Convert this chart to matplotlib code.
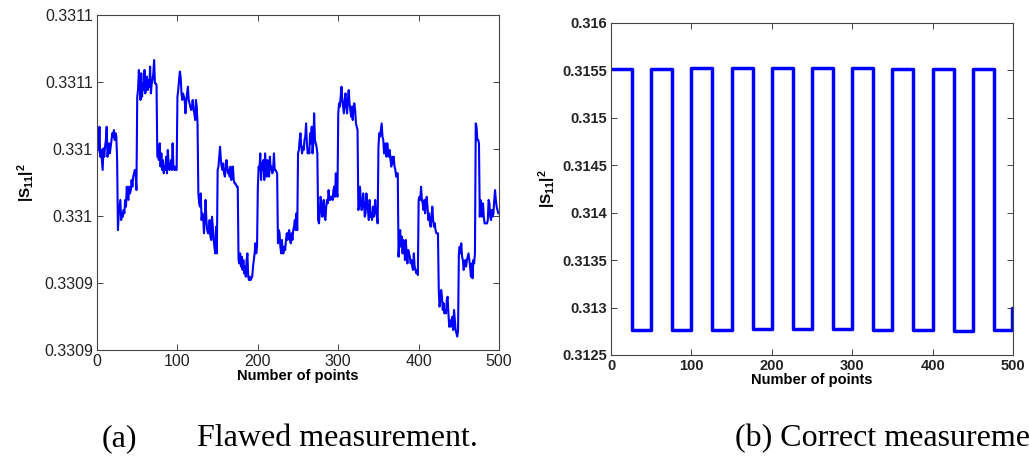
import numpy as np
import matplotlib
matplotlib.use("Agg")
import matplotlib.pyplot as plt

plt.rcParams['font.family'] = ['Liberation Sans', 'DejaVu Sans']
plt.rcParams['mathtext.fontset'] = 'custom'
plt.rcParams['mathtext.rm'] = 'Liberation Sans'
plt.rcParams['mathtext.bf'] = 'Liberation Sans:bold'

flawed_e7 = [
    1174, 1194, 1214, 1333, 1154, 1194, 1134, 1075, 1204, 1154, 1214, 1254, 1333,
    1154, 1194, 1234, 1174, 1214, 1254, 1294, 1274, 1313, 1254, 1294, 1274, 1134,
    716, 816, 856, 896, 776, 816, 796, 836, 816, 896, 856, 975, 915, 896, 975, 935,
    955, 1015, 975, 1035, 1055, 1075, 1055, 955,
    1512, 1552, 1672, 1612, 1493, 1652, 1512, 1592, 1552, 1672, 1532, 1572, 1632,
    1552, 1612, 1572, 1692, 1532, 1592, 1612, 1652, 1731, 1592, 1592, 1582,
    1154, 1154, 1134, 1234, 1095, 1174, 1075, 1134, 1055, 1095, 1075, 1154, 1055,
    1194, 1114, 1075, 1095, 1134, 1075, 1234, 1095, 1075, 1095, 1075, 1075,
    1512, 1552, 1612, 1662, 1632, 1532, 1493, 1532, 1512, 1493, 1413, 1493, 1532,
    1572, 1493, 1473, 1453, 1433, 1453, 1493, 1433, 1413, 1373, 1493, 1453,
    1353, 935, 876, 856, 935, 776, 816, 796, 697, 776, 896, 776, 716, 697, 697, 776,
    677, 657, 796, 736, 657, 617, 577, 736, 577,
    1075, 1095, 1154, 1214, 1134, 1095, 1075, 1114, 1055, 1035, 1075, 1134, 1095,
    1055, 1075, 1035, 1095, 1015, 1075, 1095, 1015, 995, 995, 985, 975,
    975, 537, 517, 577, 498, 557, 478, 537, 458, 498, 438, 537, 577, 438, 418, 438,
    418, 428, 438, 498, 537, 577, 637, 577, 617,
    975, 1095, 1075, 1174, 1015, 1114, 1075, 1134, 1015, 1174, 1095, 1035, 1134,
    1075, 1035, 1154, 1075, 1095, 1055, 1075, 1174, 1075, 1075, 1065, 1055,
    637, 716, 697, 617, 577, 657, 577, 577, 617, 597, 657, 697, 657, 697, 716, 657,
    637, 697, 657, 716, 736, 776, 716, 816, 716,
    1174, 1194, 1254, 1294, 1214, 1174, 1214, 1194, 1254, 1274, 1353, 1234, 1174,
    1194, 1174, 1294, 1234, 1333, 1174, 1234, 1413, 1254, 1234, 1214, 1174,
    776, 756, 816, 915, 876, 796, 816, 896, 796, 776, 856, 896, 876, 955, 896, 896,
    915, 915, 896, 955, 975, 915, 1055, 955, 915,
    1413, 1473, 1453, 1512, 1572, 1493, 1453, 1413, 1493, 1532, 1453, 1413, 1493,
    1552, 1473, 1433, 1393, 1453, 1373, 1453, 1473, 1433, 1353, 1333, 1313,
    836, 856, 975, 896, 836, 856, 935, 876, 796, 816, 935, 856, 836, 776, 896, 796,
    816, 776, 856, 796, 836, 896, 816, 796, 756,
    1214, 1294, 1274, 1313, 1353, 1274, 1254, 1174, 1214, 1234, 1154, 1234, 1174,
    1154, 1194, 1134, 1095, 1154, 1114, 1154, 1095, 1075, 1035, 1055, 1055,
    557, 657, 716, 617, 677, 577, 657, 617, 537, 657, 577, 517, 597, 577, 557, 517,
    537, 498, 478, 577, 498, 478, 458, 478, 448,
    896, 915, 896, 975, 896, 876, 836, 896, 816, 876, 915, 856, 776, 816, 756, 736,
    796, 856, 776, 736, 756, 716, 697, 697, 697,
    358, 259, 299, 358, 318, 239, 279, 219, 239, 219, 299, 318, 219, 139, 179, 139,
    159, 199, 119, 239, 179, 119, 100, 80, 119,
    577, 617, 577, 637, 557, 537, 478, 517, 537, 498, 537, 557, 577, 537, 498, 438,
    517, 428, 537, 517, 577,
    1353, 1333, 1254, 1254, 1234, 796, 896, 816, 796, 876, 796, 756, 756, 756, 756,
    776, 896, 876, 796, 776, 836, 796, 816, 896, 955, 896, 856, 836, 816, 816,
]
flawed = 0.3309 + np.array(flawed_e7) * 1e-7
x_a = np.arange(len(flawed))

# (b) correct measurement: switching points and levels of the square wave
edges_b = [0, 26, 50, 76, 100, 126, 150, 176, 200, 226, 250, 276, 300, 326, 350,
           376, 400, 426, 450, 476, 499, 500]
levels_b = [0.31552, 0.31276, 0.31552, 0.31276, 0.31553, 0.31276, 0.31553, 0.31277,
            0.31553, 0.31277, 0.31553, 0.31277, 0.31553, 0.31276, 0.31552, 0.31276,
            0.31552, 0.31275, 0.31552, 0.31276, 0.31300, 0.31300]

yticks_a = [0.33090, 0.33094, 0.33098, 0.33102, 0.33106, 0.33110]
yticks_b = [0.3125, 0.313, 0.3135, 0.314, 0.3145, 0.315, 0.3155, 0.316]
xticks = [0, 100, 200, 300, 400, 500]

blue = '#0000ff'
fig = plt.figure(figsize=(10.29, 4.68), dpi=100)

ax1 = fig.add_axes([0.0943, 0.2521, 0.3907, 0.7158])
ax1.plot(x_a, flawed, color=blue, lw=1.5)
ax1.set_xlim(0, 500)
ax1.set_ylim(0.33090, 0.33110)
ax1.set_xticks(xticks)
ax1.set_yticks(yticks_a)
ax1.set_yticklabels(['%.4g' % v for v in yticks_a])
ax1.tick_params(labelsize=11.5)
ax1.set_xlabel('Number of points', fontsize=10.5, fontweight='bold', labelpad=0)
ax1.set_ylabel(r'$\mathbf{|S_{11}|^2}$', fontsize=11, labelpad=5)

ax2 = fig.add_axes([0.5938, 0.2415, 0.3907, 0.7094])
ax2.plot(edges_b, levels_b, color=blue, lw=2.5, drawstyle='steps-post')
ax2.set_xlim(0, 500)
ax2.set_ylim(0.3125, 0.316)
ax2.set_xticks(xticks)
ax2.set_yticks(yticks_b)
ax2.set_yticklabels(['%g' % v for v in yticks_b])
ax2.tick_params(labelsize=10.5)
for lab in ax2.get_xticklabels() + ax2.get_yticklabels():
    lab.set_fontweight('bold')
ax2.set_xlabel('Number of points', fontsize=10.5, fontweight='bold', labelpad=0)
ax2.set_ylabel(r'$\mathbf{|S_{11}|^2}$', fontsize=11, labelpad=3)

for ax in (ax1, ax2):
    ax.tick_params(direction='in', top=True, right=True, length=4, width=0.6, pad=3,
                   colors='#222222')
    for sp in ax.spines.values():
        sp.set_linewidth(0.8)
        sp.set_color('#444444')

# captions (the reference crops the right one at the page edge)
serif = ['Liberation Serif', 'DejaVu Serif']
fig.text(102 / 1029, 0.062, '(a)', family=serif, fontsize=23, va='center')
fig.text(197 / 1029, 0.062, 'Flawed measurement.', family=serif, fontsize=23, va='center')
fig.text(735 / 1029, 0.062, '(b) Correct measurement.', family=serif, fontsize=23, va='center')

fig.savefig('out.png', dpi=100)
